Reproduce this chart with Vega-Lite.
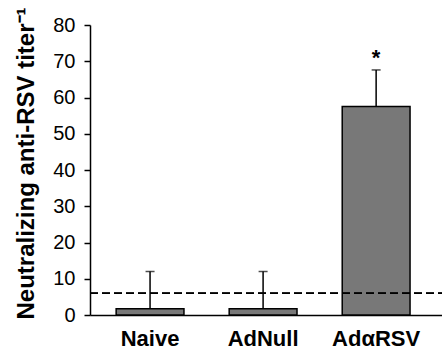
{
  "$schema": "https://vega.github.io/schema/vega-lite/v6.json",
  "autosize": {"type": "none"},
  "padding": {"left": 90, "top": 25, "right": 0, "bottom": 35},
  "width": 352,
  "height": 290,
  "background": "white",
  "config": {
    "view": {"stroke": null},
    "font": "Liberation Sans",
    "axisY": {
      "tickCount": 10,
      "labelOverlap": false,
      "grid": false,
      "labelFontSize": 20,
      "labelColor": "black",
      "labelPadding": 9,
      "tickSize": 6,
      "tickColor": "black",
      "tickWidth": 1.5,
      "domainColor": "black",
      "domainWidth": 1.5,
      "titleFontSize": 24,
      "titleFontWeight": "bold",
      "titleColor": "black",
      "titleAngle": 270,
      "titleBaseline": "alphabetic",
      "titleAlign": "center",
      "titleX": -57,
      "titleY": 138
    }
  },
  "data": {
    "values": [
      {"group": "Naive", "value": 1.7, "upper": 12, "sig": ""},
      {"group": "AdNull", "value": 1.7, "upper": 12, "sig": ""},
      {"group": "AdαRSV", "value": 57.5, "upper": 67.6, "sig": "*"}
    ]
  },
  "encoding": {
    "x": {
      "field": "group",
      "type": "nominal",
      "sort": null,
      "scale": {"paddingInner": 0.4, "paddingOuter": 0.257, "align": 0.45},
      "axis": {
        "title": null,
        "labelAngle": 0,
        "labelFontSize": 22,
        "labelFontWeight": "bold",
        "labelColor": "black",
        "labelPadding": 13,
        "ticks": false,
        "domainColor": "black",
        "domainWidth": 1.5
      }
    }
  },
  "layer": [
    {
      "mark": {"type": "rule", "color": "black", "strokeWidth": 1.5},
      "encoding": {
        "y": {
          "field": "value",
          "type": "quantitative",
          "scale": {"domain": [0, 80], "nice": false},
          "axis": {
            "title": "Neutralizing anti-RSV titer⁻¹",
            "values": [0, 10, 20, 30, 40, 50, 60, 70, 80],
            "tickCount": 10
          }
        },
        "y2": {"field": "upper"}
      }
    },
    {
      "mark": {"type": "tick", "color": "black", "size": 9, "thickness": 1.5},
      "encoding": {
        "y": {"field": "upper", "type": "quantitative"}
      }
    },
    {
      "mark": {"type": "bar", "color": "#787878", "stroke": "black", "strokeWidth": 1.5},
      "encoding": {
        "y": {"field": "value", "type": "quantitative"}
      }
    },
    {
      "mark": {"type": "rule", "color": "black", "strokeWidth": 1.5, "strokeDash": [8, 4]},
      "encoding": {
        "y": {"datum": 6, "type": "quantitative"},
        "x": {"value": 0},
        "x2": {"value": 352}
      }
    },
    {
      "mark": {"type": "text", "fontSize": 22, "fontWeight": "bold", "color": "black", "baseline": "middle", "dy": -12},
      "encoding": {
        "y": {"field": "upper", "type": "quantitative"},
        "text": {"field": "sig"}
      }
    }
  ]
}
